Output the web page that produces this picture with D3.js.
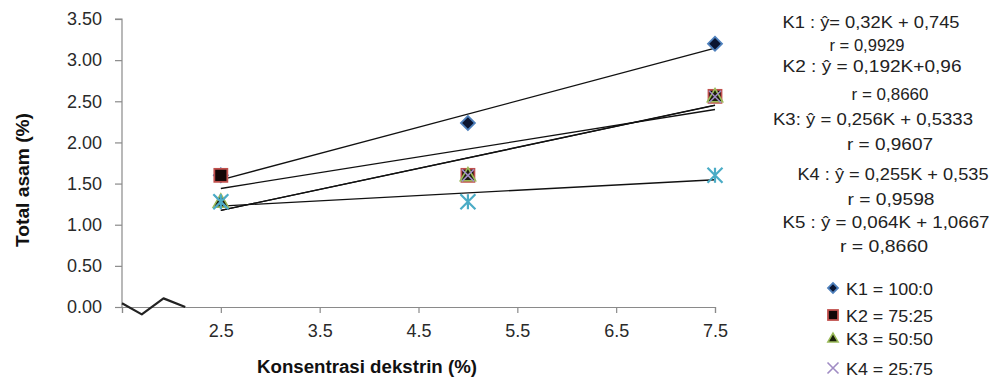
<!DOCTYPE html>
<html><head><meta charset="utf-8">
<script src="https://cdn.jsdelivr.net/npm/d3@7"></script>
<style>body{margin:0;background:#fff}svg{display:block}</style>
</head><body>
<script>
const konsentrasi = [2.5, 5, 7.5];
const seriesNames = ["K1", "K2", "K3", "K4", "K5"];
const K1 = [1.6, 2.235, 3.2];
const K2 = [1.6, 1.6, 2.56];
const K3 = [1.28, 1.6, 2.56];
const K4 = [1.28, 1.6, 2.555];
const K5 = [1.28, 1.28, 1.6];
const xTicks = [1.5, 2.5, 3.5, 4.5, 5.5, 6.5, 7.5];
const yTicks = [0, 0.5, 1, 1.5, 2, 2.5, 3, 3.5];
const wave = [[1.5, 0.045], [1.7, -0.09], [1.92, 0.105], [2.14, 0]];
const equations = [
  "K1 : ŷ= 0,32K + 0,745", "r = 0,9929",
  "K2 : ŷ = 0,192K+0,96", "r = 0,8660",
  "K3: ŷ = 0,256K + 0,5333", "r = 0,9607",
  "K4 : ŷ = 0,255K + 0,535", "r = 0,9598",
  "K5 : ŷ = 0,064K + 1,0667", "r = 0,8660"
];
const legendLabels = ["K1 = 100:0", "K2 = 75:25", "K3 = 50:50", "K4 = 25:75"];

const W = 997, H = 381;
const svg = d3.select("body").append("svg").attr("width", W).attr("height", H);
const x = d3.scaleLinear().domain([1.5, 7.5]).range([122, 715]);
const y = d3.scaleLinear().domain([0, 3.5]).range([307, 19]);
const font = "'Liberation Sans', Arial, sans-serif";

// axes
const ya = svg.append("g").attr("transform", `translate(${x(1.5)},0)`)
  .call(d3.axisLeft(y).tickValues(yTicks).tickSize(7).tickFormat(d3.format(".2f")));
const xa = svg.append("g").attr("transform", `translate(0,${y(0)})`)
  .call(d3.axisBottom(x).tickValues(xTicks).tickSize(6).tickFormat(d => d === 1.5 ? "" : d3.format(".1f")(d)));
[ya, xa].forEach(g => {
  g.select(".domain").attr("stroke", "#8a8a8a").attr("stroke-width", 1.2);
  g.selectAll(".tick line").attr("stroke", "#8a8a8a").attr("stroke-width", 1.2);
  g.selectAll("text").attr("font-family", font).attr("font-size", 18).attr("fill", "#2a2a2a");
});
ya.select(".domain").attr("d", `M-7,${y(3.5)}H0V${y(0)}`);
ya.selectAll("text").attr("x", -20);
xa.selectAll("text").attr("dy", "1.15em");

// axis titles
svg.append("text").attr("transform", `translate(29,180) rotate(-90)`)
  .attr("text-anchor", "middle").attr("font-family", font).attr("font-weight", "bold")
  .attr("font-size", 18).attr("fill", "#111")
  .attr("textLength", 134).attr("lengthAdjust", "spacingAndGlyphs").text("Total asam (%)");
svg.append("text").attr("x", 367).attr("y", 373)
  .attr("text-anchor", "middle").attr("font-family", font).attr("font-weight", "bold")
  .attr("font-size", 18).attr("fill", "#111")
  .attr("textLength", 220).attr("lengthAdjust", "spacingAndGlyphs").text("Konsentrasi dekstrin (%)");

// wave squiggle
svg.append("path").datum(wave)
  .attr("d", d3.line().x(d => x(d[0])).y(d => y(d[1])))
  .attr("fill", "none").attr("stroke", "#222").attr("stroke-width", 2.2).attr("stroke-linejoin", "round");

const series = [K1, K2, K3, K4, K5];

// trendlines (least squares)
function fit(vals) {
  const mx = d3.mean(konsentrasi), my = d3.mean(vals);
  const b = d3.sum(konsentrasi, (k, i) => (k - mx) * (vals[i] - my)) / d3.sum(konsentrasi, k => (k - mx) ** 2);
  return [b, my - b * mx];
}
series.forEach(vals => {
  const [b, a] = fit(vals);
  const ends = [konsentrasi[0], konsentrasi[konsentrasi.length - 1]];
  svg.append("line")
    .attr("x1", x(ends[0])).attr("y1", y(a + b * ends[0]))
    .attr("x2", x(ends[1])).attr("y2", y(a + b * ends[1]))
    .attr("stroke", "#111").attr("stroke-width", 1.3);
});

// markers
function drawMarker(g, type, cx, cy, s) {
  if (type === 0) {
    g.append("path").attr("d", d3.symbol(d3.symbolSquare, s * s * 0.5)())
      .attr("transform", `translate(${cx},${cy}) rotate(45)`)
      .attr("fill", "#0b1530").attr("stroke", "#4f81bd").attr("stroke-width", 1.8);
  } else if (type === 1) {
    g.append("rect").attr("x", cx - s / 2).attr("y", cy - s / 2).attr("width", s).attr("height", s)
      .attr("fill", "#120606").attr("stroke", "#c0504d").attr("stroke-width", 1.8);
  } else if (type === 2) {
    g.append("path").attr("d", d3.symbol(d3.symbolTriangle, s * s * 0.45)())
      .attr("transform", `translate(${cx},${cy + 1})`)
      .attr("fill", "#1a1f0a").attr("stroke", "#9bbb59").attr("stroke-width", 1.6);
  } else if (type === 3) {
    const r = s / 2;
    g.append("path").attr("d", `M${cx - r},${cy - r}L${cx + r},${cy + r}M${cx - r},${cy + r}L${cx + r},${cy - r}`)
      .attr("stroke", "#a08cc4").attr("stroke-width", 1.6).attr("fill", "none");
  } else {
    const r = s / 2;
    g.append("path").attr("d", `M${cx - r},${cy - r}L${cx + r},${cy + r}M${cx - r},${cy + r}L${cx + r},${cy - r}M${cx},${cy - r}L${cx},${cy + r}`)
      .attr("stroke", "#4bacc6").attr("stroke-width", 2.2).attr("fill", "none");
  }
}
const mg = svg.append("g");
const sizes = [14, 13, 15, 12, 15];
series.forEach((vals, si) => {
  vals.forEach((v, i) => drawMarker(mg, si, x(konsentrasi[i]), y(v), sizes[si]));
});

// equation texts
const eqX = [871, 867, 872, 890, 873, 890, 893, 891, 886, 884];
const eqY = [28, 51, 72, 100, 125, 150, 180, 205, 228, 252];
const eqW = [177, 75, 179, 77, 200, 86, 191, 87, 207, 88];
equations.forEach((t, i) => {
  svg.append("text").attr("x", eqX[i]).attr("y", eqY[i]).attr("text-anchor", "middle")
    .attr("font-family", font).attr("font-size", 16.5).attr("fill", "#222")
    .attr("textLength", eqW[i]).attr("lengthAdjust", "spacingAndGlyphs").text(t);
});

// legend
const legY = [288, 315, 338, 368];
const legSizes = [10, 10, 10, 11];
legendLabels.forEach((t, i) => {
  drawMarker(svg, i, 833, legY[i], legSizes[i]);
  svg.append("text").attr("x", 846).attr("y", legY[i] + 7)
    .attr("font-family", font).attr("font-size", 17).attr("fill", "#222")
    .attr("textLength", 87).attr("lengthAdjust", "spacingAndGlyphs").text(t);
});
</script>
</body></html>
